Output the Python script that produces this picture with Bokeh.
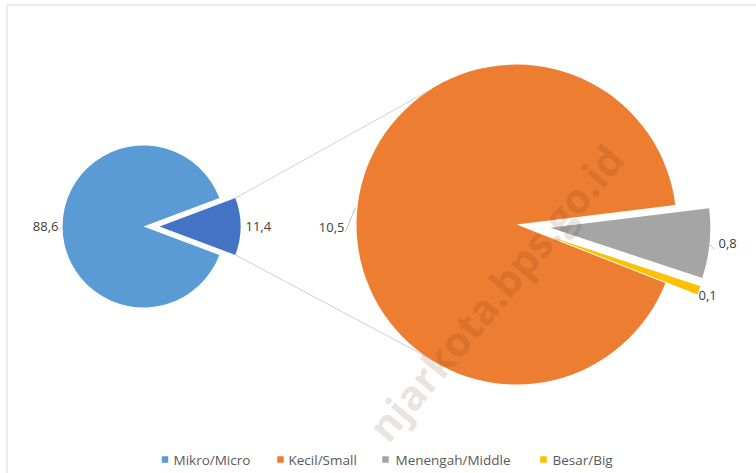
import numpy as np
from bokeh.plotting import figure
from bokeh.models import Range1d
from bokeh.core.properties import value
from bokeh.embed import file_html
from bokeh.resources import INLINE

# ---- data ----
categories = ["Mikro/Micro", "Kecil/Small", "Menengah/Middle", "Besar/Big"]
values = [88.6, 10.5, 0.8, 0.1]
colors = ["#5B9BD5", "#ED7D31", "#A5A5A5", "#FFC000"]
other_color = "#4472C4"
watermark = "njarkota.bps.go.id"

def fmt(v):
    return f"{v:.1f}".replace(".", ",")

mikro, kecil, menengah, besar = values
others = kecil + menengah + besar
total = mikro + others

# ---- layout (image pixel coords; y converted) ----
W, H = 756, 473
def Y(img_y):
    return H - img_y

p = figure(width=W, height=H, x_range=Range1d(0, W), y_range=Range1d(0, H),
           output_backend="svg", toolbar_location=None, min_border=0)
p.axis.visible = False
p.grid.visible = False
p.outline_line_color = None
p.background_fill_color = "white"
p.border_fill_color = "white"

# frame lines (top and left)
p.segment(x0=[6.5, 6.5], y0=[Y(4.5), Y(4.5)], x1=[W, 6.5], y1=[Y(4.5), 0],
          line_color="#d9d9d9", line_width=1)

# left pie
LCX, LCY, LR = 143, Y(226), 81
LEXP = 16
half = others / total * np.pi
p.wedge(x=LCX, y=LCY, radius=LR, start_angle=half, end_angle=2 * np.pi - half,
        fill_color=colors[0], line_color=None)
p.wedge(x=LCX + LEXP, y=LCY, radius=LR, start_angle=-half, end_angle=half,
        fill_color=other_color, line_color=None)

# right pie
RCX, RCY, RR = 516, Y(224), 160
REXP = 34
GRAY_END = np.radians(7)
span_k = kecil / others * 2 * np.pi
span_m = menengah / others * 2 * np.pi
span_b = besar / others * 2 * np.pi
gray_start = GRAY_END - span_m
yel_start = gray_start - span_b
p.wedge(x=RCX, y=RCY, radius=RR, start_angle=GRAY_END, end_angle=GRAY_END + span_k,
        fill_color=colors[1], line_color=None)
gm = (gray_start + GRAY_END) / 2
p.wedge(x=RCX + REXP * np.cos(gm), y=RCY + REXP * np.sin(gm), radius=RR,
        start_angle=gray_start, end_angle=GRAY_END, fill_color=colors[2], line_color=None)
ym = (yel_start + gray_start) / 2
p.wedge(x=RCX + REXP * np.cos(ym), y=RCY + REXP * np.sin(ym), radius=RR,
        start_angle=yel_start, end_angle=gray_start, fill_color=colors[3], line_color=None)

# connector lines
cx0 = [LCX + LEXP + LR * np.cos(half), LCX + LEXP + LR * np.cos(-half)]
cy0 = [LCY + LR * np.sin(half), LCY + LR * np.sin(-half)]
ca = [np.radians(123.5), np.radians(-124.5)]
cx1 = [RCX + RR * np.cos(a) for a in ca]
cy1 = [RCY + RR * np.sin(a) for a in ca]
p.segment(x0=cx0, y0=cy0, x1=cx1, y1=cy1, line_color="#d0d0d0", line_width=1)

# leader lines
p.segment(x0=[345, 707, 58], y0=[Y(231), Y(242), Y(229)],
          x1=[355, 714, 61], y1=[Y(207), Y(249), Y(227)],
          line_color="#bfbfbf", line_width=1)

# data labels
lab_text = [fmt(mikro), fmt(others), fmt(kecil), fmt(menengah), fmt(besar)]
lab_x = [58, 245, 344, 718, 698]
lab_y = [Y(226), Y(226), Y(227), Y(243), Y(295)]
lab_align = ["right", "left", "right", "left", "left"]
for t, x, y, a in zip(lab_text, lab_x, lab_y, lab_align):
    p.text(x=[x], y=[y], text=[t], text_align=a, text_baseline="middle",
           text_font=value("Open Sans"), text_font_size="13px", text_color="#404040")

# watermark
p.text(x=[614], y=[Y(150)], text=[watermark], angle=np.radians(50),
       text_align="right", text_baseline="middle", text_font=value("Open Sans"),
       text_font_style="bold", text_font_size="41px", text_color="#5a2a10", text_alpha=0.14)

# legend
leg_sq_x = [164.5, 280, 385, 543]
leg_tx_x = [173, 288, 395, 552]
for cat, col, sx, tx in zip(categories, colors, leg_sq_x, leg_tx_x):
    p.scatter(x=[sx], y=[Y(459)], marker="square", size=6.5, fill_color=col, line_color=None)
    p.text(x=[tx], y=[Y(459)], text=[cat], text_align="left", text_baseline="middle",
           text_font=value("Open Sans"), text_font_size="13.5px", text_color="#595959")

open("out.html", "w").write(file_html(p, INLINE))
